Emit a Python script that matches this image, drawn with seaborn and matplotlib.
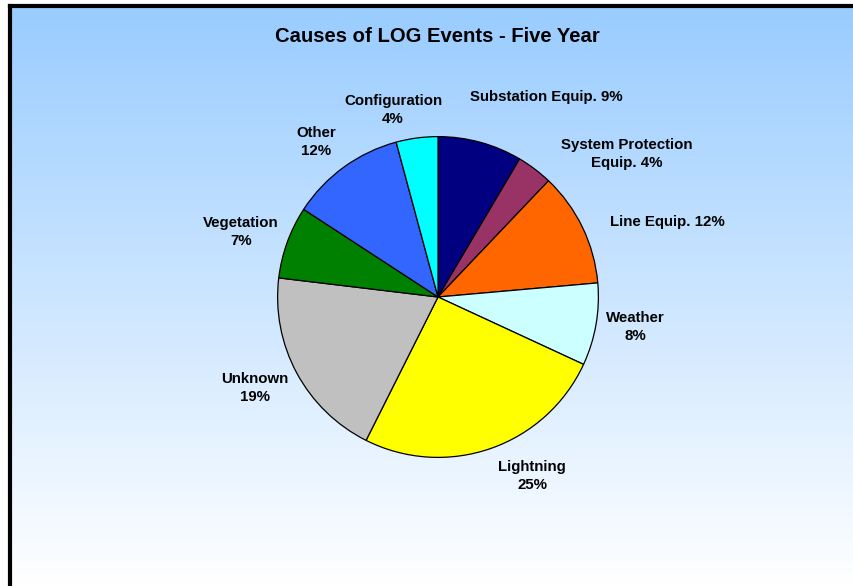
import numpy as np
import matplotlib
matplotlib.use("Agg")
import matplotlib.pyplot as plt
import seaborn as sns
from matplotlib.colors import LinearSegmentedColormap

sns.set_style("white")
plt.rcParams['font.family'] = ['Liberation Sans', 'DejaVu Sans']
plt.rcParams['text.color'] = 'black'

# Data
categories = ["Substation Equip.", "System Protection Equip.", "Line Equip.", "Weather",
              "Lightning", "Unknown", "Vegetation", "Other", "Configuration"]
shares = [8.5, 3.6, 11.5, 8.3, 25.5, 19.5, 7.3, 11.6, 4.2]
label_texts = ["Substation Equip. 9%", "System Protection\nEquip. 4%", "Line Equip. 12%",
               "Weather\n8%", "Lightning\n25%", "Unknown\n19%", "Vegetation\n7%",
               "Other\n12%", "Configuration\n4%"]
colors = ["#000080", "#993366", "#FF6600", "#CCFFFF", "#FFFF00",
          "#C0C0C0", "#008000", "#3366FF", "#00FFFF"]
title = "Causes of LOG Events - Five Year"

W, H = 854, 586
fig = plt.figure(figsize=(W / 100, H / 100), dpi=100)

# Background gradient panel
left_px, top_px = 10, 6
bg = fig.add_axes([left_px / W, 0, 1 - left_px / W, 1 - top_px / H])
cmap = LinearSegmentedColormap.from_list("bg", ["#99CCFF", "#FFFFFF"])
grad = np.linspace(0, 1, 256).reshape(-1, 1)
bg.imshow(grad, aspect="auto", cmap=cmap, extent=[0, 1, 0, 1], origin="upper")
bg.set_xlim(0, 1)
bg.set_ylim(0, 1)
bg.set_xticks([])
bg.set_yticks([])
for s in ["right", "bottom"]:
    bg.spines[s].set_visible(False)
for s in ["left", "top"]:
    bg.spines[s].set_visible(True)
    bg.spines[s].set_color("black")
    bg.spines[s].set_linewidth(3)

# Pie axes
cx, cy, r = 438, 297, 162
ax = fig.add_axes([(cx - r) / W, (H - cy - r) / H, 2 * r / W, 2 * r / H])
ax.pie(shares, colors=colors, startangle=90, counterclock=False,
       wedgeprops=dict(edgecolor="black", linewidth=0.9))
ax.set_xlim(-1.01, 1.01)
ax.set_ylim(-1.01, 1.01)
ax.set_aspect("equal")
ax.axis("off")

def px(x, y):
    return x / W, 1 - y / H

fig.text(*px(437, 36), title, ha="center", va="center", fontsize=14.6,
         fontweight="bold", color="black")

label_pos = [(546, 97), (627, 154), (667, 222), (635, 327), (532, 476),
             (255, 388), (241, 232), (316, 142), (393, 110)]
for txt, (x, y) in zip(label_texts, label_pos):
    fig.text(*px(x, y), txt, ha="center", va="center", fontsize=10.8,
             fontweight="bold", linespacing=1.45, color="black")

fig.savefig("out.png", dpi=100)
